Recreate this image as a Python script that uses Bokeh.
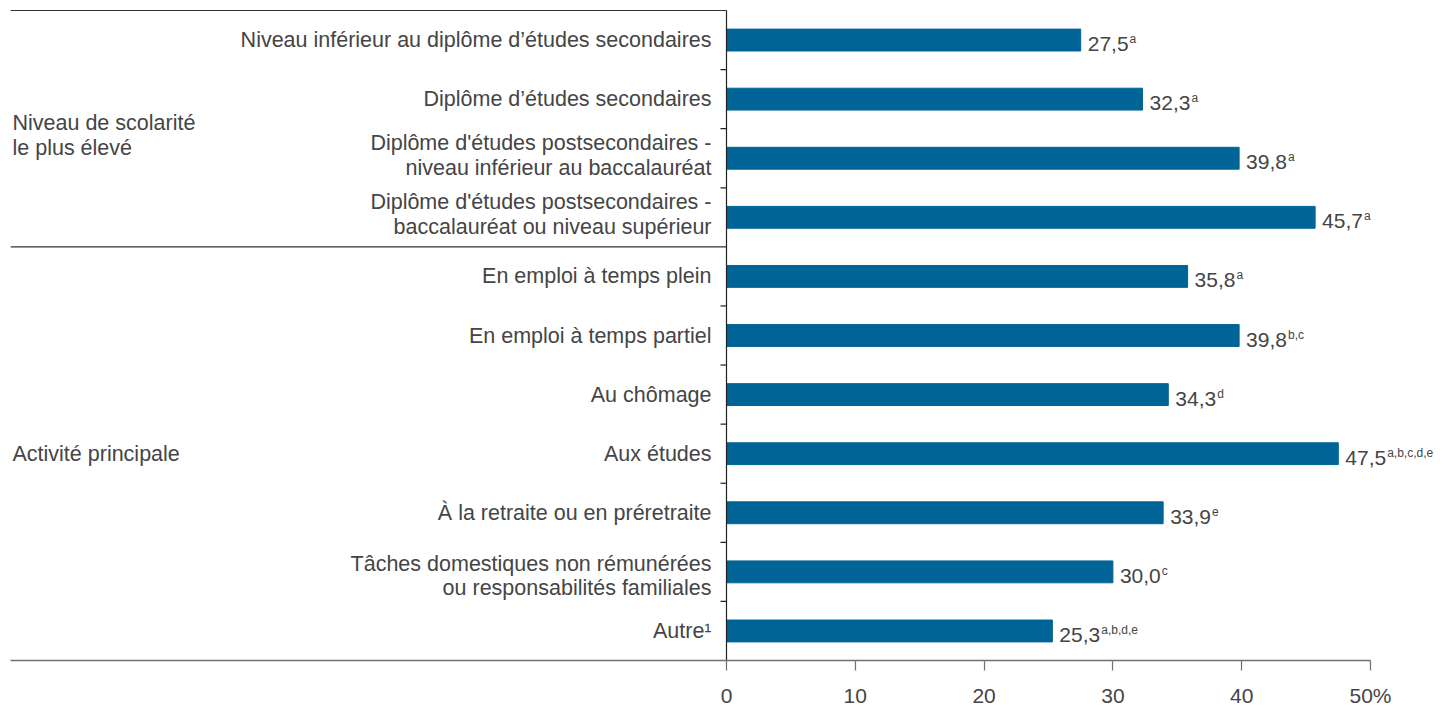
from bokeh.plotting import figure
from bokeh.models import Range1d, FixedTicker
from bokeh.core.properties import value
from bokeh.embed import file_html
from bokeh.resources import INLINE

# ---------------- data ----------------
categories = [
    "Niveau inférieur au diplôme d’études secondaires",
    "Diplôme d’études secondaires",
    "Diplôme d'études postsecondaires -\nniveau inférieur au baccalauréat",
    "Diplôme d'études postsecondaires -\nbaccalauréat ou niveau supérieur",
    "En emploi à temps plein",
    "En emploi à temps partiel",
    "Au chômage",
    "Aux études",
    "À la retraite ou en préretraite",
    "Tâches domestiques non rémunérées\nou responsabilités familiales",
    "Autre¹",
]
values = [27.5, 32.3, 39.8, 45.7, 35.8, 39.8, 34.3, 47.5, 33.9, 30.0, 25.3]
sups = ["a", "a", "a", "a", "a", "b,c", "d", "a,b,c,d,e", "e", "c", "a,b,d,e"]
groups = ["Niveau de scolarité\nle plus élevé", "Activité principale"]
group_sizes = [4, 7]
x_ticks = [0, 10, 20, 30, 40, 50]
x_tick_labels = ["0", "10", "20", "30", "40", "50%"]

# ---------------- style / layout ----------------
FONT = "Liberation Sans"
TXT = "#454545"
BAR = "#006496"
W, H = 1446, 709
LEFT = 10            # frame left (px)
ZERO_PX = 726        # pixel of value 0
FIFTY_PX = 1370      # pixel of value 50
px_per_unit = (FIFTY_PX - ZERO_PX) / 50.0
XMIN = -(ZERO_PX - LEFT) / px_per_unit
XMAX = 50 + (W - FIFTY_PX) / px_per_unit
n = len(categories)

label_size = 21.5
num_size = 21
sup_size = 12
line_h = 1.03
# small vertical nudges (px) of the category / group labels
label_nudge = [0, 0, -3, -2.5, 0, 0, 0, 0, 0, 4, 0]
group_nudge = [7, 0]

adv = {c: 0.556 for c in "0123456789"}
adv[","] = 0.278


def text_w(s, size):
    return sum(adv.get(c, 0.556) for c in s) * size


ys = [i + 0.5 for i in range(n)]
num_txt = [f"{v:.1f}".replace(".", ",") for v in values]
sup_off = [7 + text_w(t, num_size) + 1 for t in num_txt]

p = figure(
    width=W, height=H,
    x_range=Range1d(XMIN, XMAX),
    y_range=Range1d(n, -0.034),
    output_backend="svg", toolbar_location=None,
    min_border_left=LEFT, min_border_right=0, min_border_top=8, min_border_bottom=0,
)
p.outline_line_color = None
p.grid.visible = False
p.yaxis.visible = False

ax = p.xaxis[0]
ax.ticker = FixedTicker(ticks=x_ticks)
ax.bounds = (XMIN, 50)
ax.major_label_overrides = {t: l for t, l in zip(x_ticks, x_tick_labels)}
ax.major_label_text_font = FONT
ax.major_label_text_font_size = "21px"
ax.major_label_text_color = TXT
ax.major_label_standoff = 13
ax.axis_line_color = "#707070"
ax.axis_line_width = 1.5
ax.major_tick_line_color = "#707070"
ax.major_tick_line_width = 1.2
ax.major_tick_out = 10
ax.major_tick_in = 0
ax.minor_tick_line_color = None

# bars
p.hbar(y=ys, left=0, right=values, height=0.37, color=BAR)

# frame lines
p.segment(x0=[XMIN, XMIN], x1=[0, 0], y0=[0, group_sizes[0]], y1=[0, group_sizes[0]],
          line_color="#333333", line_width=1.2)
p.segment(x0=[0], x1=[0], y0=[0], y1=[n], line_color="#222222", line_width=1.2)
bounds = [b for b in range(1, n) if b != group_sizes[0]]
tick_len = 6 / px_per_unit
p.segment(x0=[-tick_len] * len(bounds), x1=[0] * len(bounds), y0=bounds, y1=bounds,
          line_color="#222222", line_width=1.2)

# category labels
p.text(x=[0] * n, y=ys, text=categories, x_offset=-15, y_offset=label_nudge,
       text_align="right", text_baseline="middle", text_font=value(FONT),
       text_font_size=f"{label_size}px", text_color=TXT, text_line_height=line_h)

# group labels
gy = []
start = 0
for s in group_sizes:
    gy.append(start + s / 2)
    start += s
p.text(x=[XMIN] * len(groups), y=gy, text=groups, x_offset=2, y_offset=group_nudge,
       text_align="left", text_baseline="middle", text_font=value(FONT),
       text_font_size=f"{label_size}px", text_color=TXT, text_line_height=line_h)

# value labels
p.text(x=values, y=ys, text=num_txt, x_offset=7, y_offset=4, text_align="left",
       text_baseline="middle", text_font=value(FONT), text_font_size=f"{num_size}px",
       text_color=TXT)
p.text(x=values, y=ys, text=sups, x_offset=sup_off, y_offset=-1, text_align="left",
       text_baseline="middle", text_font=value(FONT), text_font_size=f"{sup_size}px",
       text_color=TXT)

open("out.html", "w").write(file_html(p, INLINE))
